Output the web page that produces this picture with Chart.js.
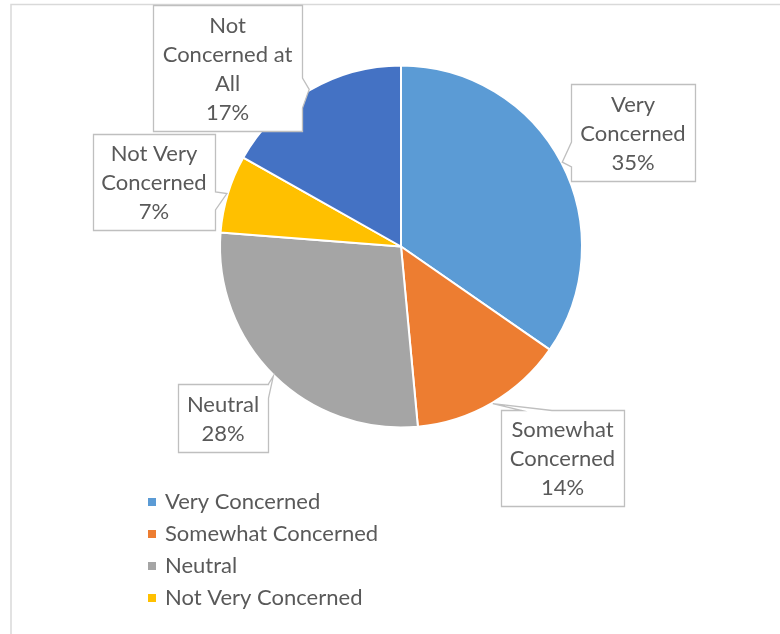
<!DOCTYPE html>
<html>
<head>
<meta charset="utf-8">
<script src="https://cdn.jsdelivr.net/npm/chart.js@4.4.0/dist/chart.umd.min.js"></script>
<style>
  body { margin: 0; background: #fff; }
  canvas { display: block; }
</style>
</head>
<body>
<canvas id="GraficoPreocupacao" width="780" height="634"></canvas>
<script>
var categorias = ['Very Concerned', 'Somewhat Concerned', 'Neutral', 'Not Very Concerned', 'Not Concerned at All'];
var percentuais = [35, 14, 28, 7, 17];
var cores = ['#5B9BD5', '#ED7D31', '#A5A5A5', '#FFC000', '#4472C4'];

// linhas de texto de cada caixa (a linha do % vem de percentuais)
var textoCaixas = [['Very', 'Concerned'], ['Somewhat', 'Concerned'], ['Neutral'], ['Not Very', 'Concerned'], ['Not', 'Concerned at', 'All']];

// posicao das caixas e da base da seta
var caixas = [
    { x: 571, y: 84, w: 124, h: 97, lado: 'left', de: 142, ate: 167 },
    { x: 501, y: 410, w: 123, h: 96, lado: 'top', de: 522, ate: 552 },
    { x: 178, y: 384, w: 90, h: 68, lado: 'right', de: 384, ate: 398 },
    { x: 93, y: 134, w: 122, h: 96, lado: 'right', de: 192, ate: 210 },
    { x: 153, y: 5, w: 149, h: 126, lado: 'right', de: 78, ate: 108 }
];

var FONTE = 'Lato, "Open Sans", sans-serif';
var COR_TEXTO = '#595959';

var moldura = {
    id: 'moldura',
    beforeDraw: function (chart) {
        var ctx = chart.ctx;
        ctx.save();
        ctx.strokeStyle = '#D9D9D9';
        ctx.lineWidth = 1.5;
        ctx.beginPath();
        ctx.moveTo(11, 634);
        ctx.lineTo(11, 4.5);
        ctx.lineTo(780, 4.5);
        ctx.stroke();
        ctx.restore();
    }
};

var rotulos = {
    id: 'rotulos',
    afterDatasetsDraw: function (chart) {
        var ctx = chart.ctx;
        var arcos = chart.getDatasetMeta(0).data;
        ctx.save();
        arcos.forEach(function (arco, i) {
            var p = arco.getProps(['x', 'y', 'startAngle', 'endAngle', 'outerRadius'], true);
            var ang = (p.startAngle + p.endAngle) / 2;
            var tx = p.x + Math.cos(ang) * (p.outerRadius + 1);
            var ty = p.y + Math.sin(ang) * (p.outerRadius + 1);
            var c = caixas[i];
            var x0 = c.x + 0.5, y0 = c.y + 0.5, x1 = c.x + c.w + 0.5, y1 = c.y + c.h + 0.5;

            ctx.beginPath();
            ctx.moveTo(x0, y0);
            if (c.lado === 'top') { ctx.lineTo(c.de, y0); ctx.lineTo(tx, ty); ctx.lineTo(c.ate, y0); }
            ctx.lineTo(x1, y0);
            if (c.lado === 'right') { ctx.lineTo(x1, c.de); ctx.lineTo(tx, ty); ctx.lineTo(x1, c.ate); }
            ctx.lineTo(x1, y1);
            if (c.lado === 'bottom') { ctx.lineTo(c.ate, y1); ctx.lineTo(tx, ty); ctx.lineTo(c.de, y1); }
            ctx.lineTo(x0, y1);
            if (c.lado === 'left') { ctx.lineTo(x0, c.ate); ctx.lineTo(tx, ty); ctx.lineTo(x0, c.de); }
            ctx.closePath();
            ctx.fillStyle = '#FFFFFF';
            ctx.fill();
            ctx.strokeStyle = '#BFBFBF';
            ctx.lineWidth = 1.3;
            ctx.stroke();

            var linhas = textoCaixas[i].concat([percentuais[i] + '%']);
            var alt = 29;
            var cy = c.y + c.h / 2 + 1 - (linhas.length - 1) * alt / 2;
            ctx.fillStyle = COR_TEXTO;
            ctx.font = '22px ' + FONTE;
            ctx.textAlign = 'center';
            ctx.textBaseline = 'middle';
            linhas.forEach(function (l, k) {
                ctx.fillText(l, c.x + c.w / 2, cy + k * alt);
            });
        });
        ctx.restore();
    }
};

// legenda mostra so as quatro primeiras, como no grafico original
var legenda = {
    id: 'legenda',
    afterDraw: function (chart) {
        var ctx = chart.ctx;
        ctx.save();
        ctx.font = '22px ' + FONTE;
        ctx.textBaseline = 'middle';
        ctx.textAlign = 'left';
        for (var i = 0; i < 4; i++) {
            var y = 502 + i * 32;
            ctx.fillStyle = cores[i];
            ctx.fillRect(148, y - 4, 8, 8);
            ctx.fillStyle = COR_TEXTO;
            ctx.fillText(categorias[i], 165, y);
        }
        ctx.restore();
    }
};

var ctx = document.getElementById('GraficoPreocupacao').getContext('2d');
var grafico = new Chart(ctx, {
    type: 'pie',
    data: {
        labels: categorias,
        datasets: [
            {
                label: 'Concern',
                data: percentuais,
                backgroundColor: cores,
                borderColor: '#FFFFFF',
                borderWidth: 2
            }
        ]
    },
    options: {
        responsive: false,
        animation: false,
        devicePixelRatio: 1,
        radius: 181,
        layout: { padding: { left: 220, top: 65.5, right: 198, bottom: 206.5 } },
        plugins: {
            legend: { display: false },
            tooltip: { enabled: false }
        }
    },
    plugins: [moldura, rotulos, legenda]
});
</script>
</body>
</html>
